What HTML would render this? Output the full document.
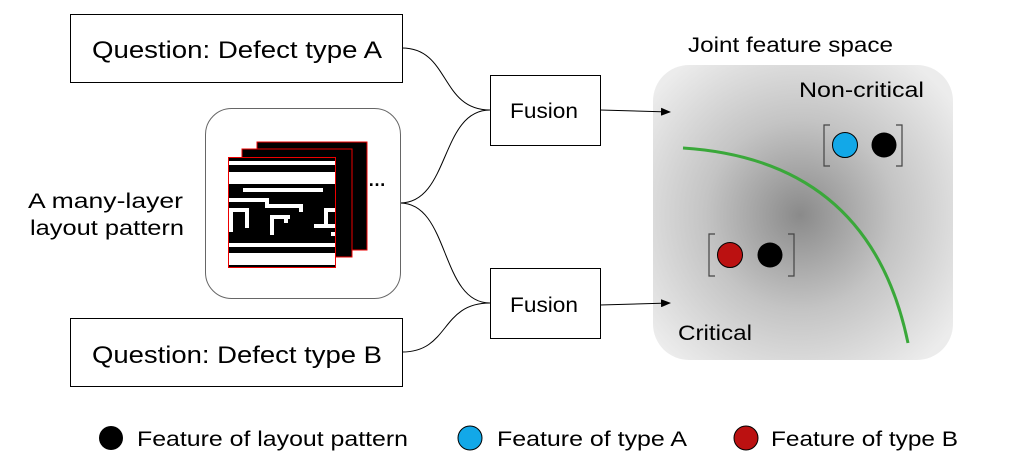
<!DOCTYPE html>
<html><head><style>
body{margin:0;width:1019px;height:467px;background:#fff;overflow:hidden;font-family:"Liberation Sans",sans-serif}
</style></head><body>
<svg width="1019" height="467" xmlns="http://www.w3.org/2000/svg" font-family="Liberation Sans, sans-serif">
<defs>
<radialGradient id="g" cx="800" cy="215" r="190" gradientUnits="userSpaceOnUse">
<stop offset="0" stop-color="#8a8a8a"/><stop offset="0.5" stop-color="#c4c4c4"/><stop offset="1" stop-color="#ececec"/>
</radialGradient>
<marker id="a" markerWidth="10" markerHeight="8" refX="9" refY="4" orient="auto" markerUnits="userSpaceOnUse"><path d="M0,0L10,4L0,8z" fill="#000"/></marker>
</defs>
<rect x="70.5" y="14.5" width="332" height="68" fill="#fff" stroke="#000"/>
<text x="92" y="58" font-size="24" textLength="290" lengthAdjust="spacingAndGlyphs">Question: Defect type A</text>
<rect x="70.5" y="318.5" width="332" height="68" fill="#fff" stroke="#000"/>
<text x="92" y="363" font-size="24" textLength="290" lengthAdjust="spacingAndGlyphs">Question: Defect type B</text>
<rect x="490.5" y="75.5" width="110" height="70" fill="#fff" stroke="#000"/>
<text x="510" y="118" font-size="21" textLength="68" lengthAdjust="spacingAndGlyphs">Fusion</text>
<rect x="490.5" y="268.5" width="110" height="70" fill="#fff" stroke="#000"/>
<text x="510" y="312" font-size="21" textLength="68" lengthAdjust="spacingAndGlyphs">Fusion</text>
<g fill="none" stroke="#000" stroke-width="1">
<path d="M402,48 C450,48 440,110 490,110"/>
<path d="M400,203 C450,203 440,110 490,110"/>
<path d="M400,203 C450,203 440,303 490,303"/>
<path d="M402,352 C450,352 440,303 490,303"/>
</g>
<rect x="205.5" y="108.5" width="195" height="190" rx="26" fill="#fff" stroke="#666"/>
<rect x="257" y="142" width="110" height="108" fill="#000" stroke="#e00"/>
<rect x="242" y="149" width="110" height="108" fill="#000" stroke="#e00"/>
<rect x="228.5" y="157.5" width="107" height="110" fill="#000" stroke="#e00"/>
<g fill="#fff">
<rect x="229" y="161" width="106" height="4"/>
<rect x="229" y="172" width="106" height="12"/>
<rect x="243" y="188" width="80" height="4"/>
<rect x="229" y="198" width="40" height="4"/><rect x="265" y="198" width="4" height="10"/><rect x="265" y="204" width="36" height="4"/><rect x="299" y="204" width="4" height="8"/>
<rect x="229" y="208" width="20" height="4"/><rect x="245" y="208" width="4" height="20"/><rect x="229" y="212" width="4" height="20"/>
<rect x="270" y="215" width="4" height="20"/><rect x="270" y="215" width="20" height="4"/><rect x="284" y="215" width="4" height="8"/>
<rect x="324" y="208" width="4" height="20"/><rect x="324" y="208" width="11" height="4"/><rect x="314" y="224" width="21" height="4"/><rect x="331" y="232" width="4" height="4"/>
<rect x="229" y="243" width="106" height="4"/>
<rect x="229" y="253" width="106" height="12"/>
</g>
<text x="368" y="186" font-size="18" font-weight="bold">…</text>
<text x="28" y="208" font-size="21" textLength="155" lengthAdjust="spacingAndGlyphs">A many-layer</text>
<text x="30" y="235" font-size="21" textLength="154" lengthAdjust="spacingAndGlyphs">layout pattern</text>
<text x="688" y="52" font-size="21" textLength="205" lengthAdjust="spacingAndGlyphs">Joint feature space</text>
<rect x="653" y="65" width="300" height="295" rx="36" fill="url(#g)"/>
<text x="799" y="97" font-size="21" textLength="125" lengthAdjust="spacingAndGlyphs">Non-critical</text>
<text x="678" y="340" font-size="21" textLength="74" lengthAdjust="spacingAndGlyphs">Critical</text>
<path d="M683,148 Q870,160 908,343" fill="none" stroke="#3aa83a" stroke-width="3"/>
<g fill="none" stroke="#000" stroke-width="1">
<path d="M600,110 L670,112" marker-end="url(#a)"/>
<path d="M600,305 L670,303" marker-end="url(#a)"/>
</g>
<g fill="none" stroke="#444" stroke-width="1.2">
<path d="M830,125 h-6 v41 h6"/><path d="M896,125 h6 v41 h-6"/>
<path d="M715,234 h-6 v42 h6"/><path d="M788,234 h6 v42 h-6"/>
</g>
<circle cx="845" cy="145" r="12.5" fill="#12a8e8" stroke="#000"/>
<circle cx="884" cy="145" r="12.5" fill="#000"/>
<circle cx="730" cy="255" r="12.5" fill="#bb1111" stroke="#000"/>
<circle cx="770" cy="255" r="12.5" fill="#000"/>
<circle cx="111" cy="438" r="12" fill="#000"/>
<text x="137" y="446" font-size="21" textLength="271" lengthAdjust="spacingAndGlyphs">Feature of layout pattern</text>
<circle cx="470" cy="438" r="12" fill="#12a8e8" stroke="#000"/>
<text x="497" y="446" font-size="21" textLength="190" lengthAdjust="spacingAndGlyphs">Feature of type A</text>
<circle cx="746" cy="438" r="12" fill="#bb1111" stroke="#000"/>
<text x="771" y="446" font-size="21" textLength="187" lengthAdjust="spacingAndGlyphs">Feature of type B</text>
</svg>
</body></html>
